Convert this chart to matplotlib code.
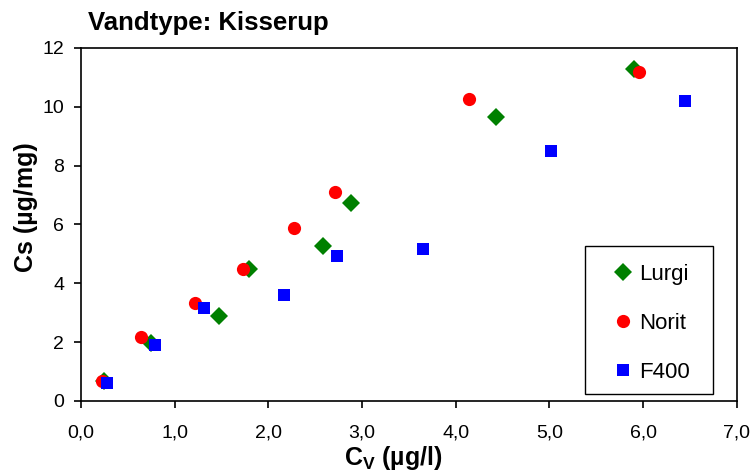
import matplotlib
matplotlib.use("Agg")
import matplotlib.pyplot as plt
from matplotlib.patches import Rectangle
from matplotlib.ticker import FixedLocator

plt.rcParams['font.family'] = ['Liberation Sans', 'DejaVu Sans']
plt.rcParams['mathtext.fontset'] = 'custom'
plt.rcParams['mathtext.rm'] = 'Liberation Sans'
plt.rcParams['mathtext.bf'] = 'Liberation Sans:bold'
plt.rcParams['mathtext.default'] = 'bf'

# Isotherm data: liquid concentration Cv (µg/l) vs. loading Cs (µg/mg)
lurgi_cv = [0.25, 0.75, 1.47, 1.79, 2.58, 2.88, 4.43, 5.90]
lurgi_cs = [0.66, 1.96, 2.87, 4.48, 5.25, 6.72, 9.67, 11.29]

norit_cv = [0.23, 0.64, 1.22, 1.73, 2.27, 2.71, 4.14, 5.96]
norit_cs = [0.69, 2.17, 3.34, 4.49, 5.88, 7.10, 10.25, 11.19]

f400_cv = [0.28, 0.79, 1.31, 2.17, 2.73, 3.65, 5.02, 6.45]
f400_cs = [0.61, 1.89, 3.16, 3.61, 4.93, 5.16, 8.48, 10.20]

x_ticks = [0, 1, 2, 3, 4, 5, 6, 7]
x_ticklabels = ["0,0", "1,0", "2,0", "3,0", "4,0", "5,0", "6,0", "7,0"]
y_ticks = [0, 2, 4, 6, 8, 10, 12]

fig = plt.figure(figsize=(7.55, 4.75), dpi=100)
ax = fig.add_axes([0.107, 0.156, 0.869, 0.743])

ax.plot(lurgi_cv, lurgi_cs, linestyle='none', marker='D', markersize=9,
        color='#008000', markeredgewidth=0, label='Lurgi')
ax.plot(norit_cv, norit_cs, linestyle='none', marker='o', markersize=9.5,
        color='#ff0000', markeredgewidth=0, label='Norit')
ax.plot(f400_cv, f400_cs, linestyle='none', marker='s', markersize=9.2,
        color='#0000ff', markeredgewidth=0, label='F400')

ax.set_xlim(0, 7)
ax.set_ylim(0, 12)
ax.xaxis.set_major_locator(FixedLocator(x_ticks))
ax.set_xticklabels(x_ticklabels, fontsize=14)
ax.yaxis.set_major_locator(FixedLocator(y_ticks))
ax.set_yticklabels([str(v) for v in y_ticks], fontsize=14)

for s in ax.spines.values():
    s.set_linewidth(1.2)
    s.set_color('black')
ax.tick_params(direction='out', length=5, width=1.2, color='black')
ax.tick_params(axis='x', pad=12)
ax.tick_params(axis='y', pad=7)

ax.set_xlabel(r'$C_{V}$ (µg/l)', fontsize=18, fontweight='bold')
ax.xaxis.label.set_va('center')
ax.xaxis.set_label_coords(0.477, -0.161)

ax.set_ylabel('Cs (µg/mg)', fontsize=18, fontweight='bold')
ax.yaxis.label.set_va('center')
ax.yaxis.set_label_coords(-0.084, 0.55)

fig.text(0.117, 0.952, 'Vandtype: Kisserup', fontsize=18.5, fontweight='bold',
         ha='left', va='center')

# Legend frame drawn as its own box, entries placed inside it
ax.add_patch(Rectangle((0.768, 0.0198), 0.195, 0.419, transform=ax.transAxes,
                       facecolor='white', edgecolor='black', linewidth=1.0,
                       zorder=5))
leg = ax.legend(loc='upper left', bbox_to_anchor=(0.8095, 0.388), fontsize=16,
                frameon=False, labelspacing=1.25, handlelength=1.0,
                handletextpad=0.23, borderpad=0, borderaxespad=0, numpoints=1)
leg.set_zorder(6)

fig.savefig('out.png', dpi=100)
